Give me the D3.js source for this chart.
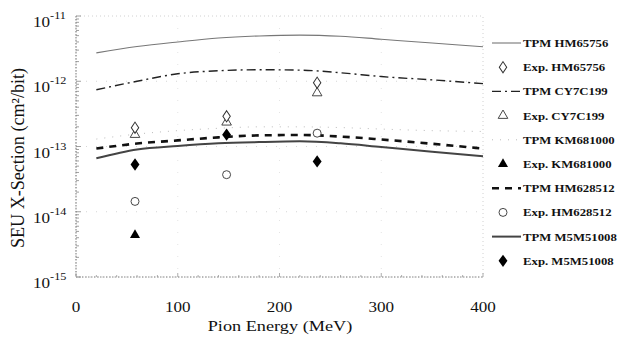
<!DOCTYPE html>
<html><head><meta charset="utf-8">
<script src="https://cdn.jsdelivr.net/npm/d3@7"></script>
<style>body{margin:0;background:#fff}svg{display:block}</style>
</head><body>
<svg id="c" width="620" height="337"></svg>
<script>
// ---- data ----
const xTicks = [0, 100, 200, 300, 400];
const yTickExps = [-11, -12, -13, -14, -15];
const tpmE = [20, 60, 100, 140, 180, 220, 260, 300, 350, 400];
const tpmHM65756 = [2.72e-12, 3.4e-12, 4.0e-12, 4.6e-12, 4.95e-12, 5.1e-12, 4.9e-12, 4.4e-12, 3.85e-12, 3.37e-12];
const tpmCY7C199 = [7.4e-13, 1.0e-12, 1.3e-12, 1.45e-12, 1.5e-12, 1.48e-12, 1.35e-12, 1.18e-12, 1.05e-12, 9.2e-13];
const tpmKM681000 = [1.3e-13, 1.55e-13, 1.75e-13, 1.9e-13, 2.0e-13, 2.0e-13, 1.95e-13, 1.85e-13, 1.75e-13, 1.7e-13];
const tpmHM628512 = [9.3e-14, 1.11e-13, 1.24e-13, 1.38e-13, 1.48e-13, 1.5e-13, 1.42e-13, 1.28e-13, 1.1e-13, 9.3e-14];
const tpmM5M51008 = [6.6e-14, 9.0e-14, 1.02e-13, 1.12e-13, 1.17e-13, 1.2e-13, 1.12e-13, 9.8e-14, 8.3e-14, 7.1e-14];
const expE = [58, 148, 237];
const expHM65756 = [1.94e-13, 2.9e-13, 9.5e-13];
const expCY7C199 = [1.52e-13, 2.35e-13, 6.6e-13];
const expKM681000E = [58];
const expKM681000 = [4.4e-15];
const expHM628512 = [1.44e-14, 3.7e-14, 1.6e-13];
const expM5M51008 = [5.3e-14, 1.52e-13, 5.9e-14];
const legendLabels = ["TPM HM65756","Exp. HM65756","TPM CY7C199","Exp. CY7C199","TPM KM681000","Exp. KM681000","TPM HM628512","Exp. HM628512","TPM M5M51008","Exp. M5M51008"];

// ---- layout ----
const svg = d3.select("#c");
const L = 76, R = 483, T = 16, B = 277;
const SX = 1.22;
const FONT = "'Liberation Serif',Tinos,'Times New Roman',Times,serif";
const x = d3.scaleLinear().domain([0, 400]).range([L, R]);
const y = d3.scaleLog().domain([1e-15, 1e-11]).range([B, T]);

// faint grid
const g = svg.append("g");
yTickExps.slice(1, 4).forEach(e => {
  g.append("line").attr("x1", L).attr("x2", R).attr("y1", y(Math.pow(10, e))).attr("y2", y(Math.pow(10, e)))
   .attr("stroke", "#ccc").attr("stroke-width", 0.8).attr("stroke-dasharray", "1,9");
});
xTicks.slice(1, 4).forEach(t => {
  g.append("line").attr("x1", x(t)).attr("x2", x(t)).attr("y1", T).attr("y2", B)
   .attr("stroke", "#ddd").attr("stroke-width", 0.8).attr("stroke-dasharray", "1,11");
});

// frame (dotted)
g.append("rect").attr("x", L).attr("y", T).attr("width", R - L).attr("height", B - T)
 .attr("fill", "none").attr("stroke", "#c4c4c4").attr("stroke-width", 0.8).attr("stroke-dasharray", "1,3");
g.append("line").attr("x1", L).attr("x2", L).attr("y1", T).attr("y2", B).attr("stroke", "#777").attr("stroke-dasharray", "1.5,1.5");
g.append("line").attr("x1", L).attr("x2", R).attr("y1", B).attr("y2", B).attr("stroke", "#888").attr("stroke-dasharray", "1.5,1.5");

// minor ticks on y
const minor = [];
for (let e = -15; e < -11; e++) for (let m = 1; m <= 9; m++) minor.push(m * Math.pow(10, e));
minor.push(1e-11);
g.selectAll(".mt").data(minor).join("line")
 .attr("x1", L).attr("x2", d => L + (Math.abs(Math.log10(d) - Math.round(Math.log10(d))) < 1e-9 ? 5 : 3))
 .attr("y1", d => y(d)).attr("y2", d => y(d)).attr("stroke", "#888").attr("stroke-width", 0.8);
// x ticks
g.selectAll(".xt").data(d3.range(0, 401, 20)).join("line")
 .attr("x1", d => x(d)).attr("x2", d => x(d)).attr("y1", B).attr("y2", d => B - (d % 100 === 0 ? 4 : 2))
 .attr("stroke", "#999").attr("stroke-width", 0.8);

// tick labels
xTicks.forEach(t => {
  svg.append("text").attr("transform", `translate(${x(t)},312) scale(${SX},1)`)
   .attr("text-anchor", "middle").attr("font-family", FONT).attr("font-size", 14).attr("fill", "#111").text(t);
});
yTickExps.forEach(e => {
  const ty = y(Math.pow(10, e));
  const t = svg.append("text").attr("transform", `translate(33,${ty + 11}) scale(${SX},1)`)
   .attr("font-family", FONT).attr("fill", "#111");
  t.append("tspan").attr("font-size", 14).text("10");
  t.append("tspan").attr("font-size", 10).attr("dy", -8).text(String(e));
});

// axis titles
svg.append("text").attr("transform", `translate(280,331) scale(1.26,1)`)
 .attr("text-anchor", "middle").attr("font-family", FONT).attr("font-size", 14.5).attr("fill", "#111")
 .text("Pion Energy (MeV)");
svg.append("text").attr("transform", `translate(24,158) scale(${SX},1) rotate(-90)`)
 .attr("text-anchor", "middle").attr("font-family", FONT).attr("font-size", 15).attr("fill", "#111")
 .attr("textLength", 180).attr("lengthAdjust", "spacingAndGlyphs")
 .text("SEU X-Section (cm²/bit)");

// ---- lines ----
const line = d3.line().x(d => x(d[0])).y(d => y(d[1])).curve(d3.curveMonotoneX);
const styles = {
  HM65756: {stroke: "#777", width: 1.1, dash: null},
  CY7C199: {stroke: "#222", width: 1.4, dash: "9,4,2,4"},
  KM681000: {stroke: "#bbb", width: 1, dash: "1,7"},
  HM628512: {stroke: "#111", width: 2.6, dash: "7,6"},
  M5M51008: {stroke: "#444", width: 2, dash: null}
};
const series = [["HM65756", tpmHM65756], ["CY7C199", tpmCY7C199], ["KM681000", tpmKM681000], ["HM628512", tpmHM628512], ["M5M51008", tpmM5M51008]];
series.forEach(([k, vals]) => {
  const s = styles[k];
  svg.append("path").datum(tpmE.map((e, i) => [e, vals[i]])).attr("d", line)
   .attr("fill", "none").attr("stroke", s.stroke).attr("stroke-width", s.width)
   .attr("stroke-dasharray", s.dash);
});

// ---- markers ----
function marker(sel, type, cx, cy) {
  if (type === "odiam") sel.append("path").attr("d", d3.symbol(d3.symbolDiamond, 36)()).attr("transform", `translate(${cx},${cy}) scale(1.15,1)`).attr("fill", "#fff").attr("stroke", "#333").attr("stroke-width", 0.9);
  if (type === "otri") sel.append("path").attr("d", d3.symbol(d3.symbolTriangle, 40)()).attr("transform", `translate(${cx},${cy})`).attr("fill", "#fff").attr("stroke", "#333").attr("stroke-width", 0.9);
  if (type === "ftri") sel.append("path").attr("d", d3.symbol(d3.symbolTriangle, 44)()).attr("transform", `translate(${cx},${cy})`).attr("fill", "#000");
  if (type === "ocirc") sel.append("circle").attr("cx", cx).attr("cy", cy).attr("r", 4).attr("fill", "#fff").attr("stroke", "#333").attr("stroke-width", 0.9);
  if (type === "fdiam") sel.append("path").attr("d", d3.symbol(d3.symbolDiamond, 44)()).attr("transform", `translate(${cx},${cy}) scale(1.25,1)`).attr("fill", "#000");
}
const mk = svg.append("g");
expE.forEach((e, i) => marker(mk, "otri", x(e), y(expCY7C199[i])));
expE.forEach((e, i) => marker(mk, "odiam", x(e), y(expHM65756[i])));
expKM681000E.forEach((e, i) => marker(mk, "ftri", x(e), y(expKM681000[i])));
expE.forEach((e, i) => marker(mk, "ocirc", x(e), y(expHM628512[i])));
expE.forEach((e, i) => marker(mk, "fdiam", x(e), y(expM5M51008[i])));

// ---- legend ----
const legY0 = 43, legDy = 24.2;
const legKinds = [
  {line: "HM65756"}, {m: "odiam"}, {line: "CY7C199"}, {m: "otri"}, {line: "KM681000"},
  {m: "ftri"}, {line: "HM628512"}, {m: "ocirc"}, {line: "M5M51008"}, {m: "fdiam"}
];
legendLabels.forEach((lab, i) => {
  const ly = legY0 + i * legDy;
  const k = legKinds[i];
  if (k.line) {
    const s = styles[k.line];
    svg.append("line").attr("x1", 492).attr("x2", 521).attr("y1", ly).attr("y2", ly)
     .attr("stroke", s.stroke).attr("stroke-width", s.width).attr("stroke-dasharray", s.dash);
  } else {
    marker(svg, k.m, 503, ly);
  }
  svg.append("text").attr("transform", `translate(523,${ly + 4}) scale(1.16,1)`)
   .attr("font-family", FONT).attr("font-weight", "bold").attr("font-size", 11).attr("fill", "#111").text(lab);
});
</script>
</body></html>
